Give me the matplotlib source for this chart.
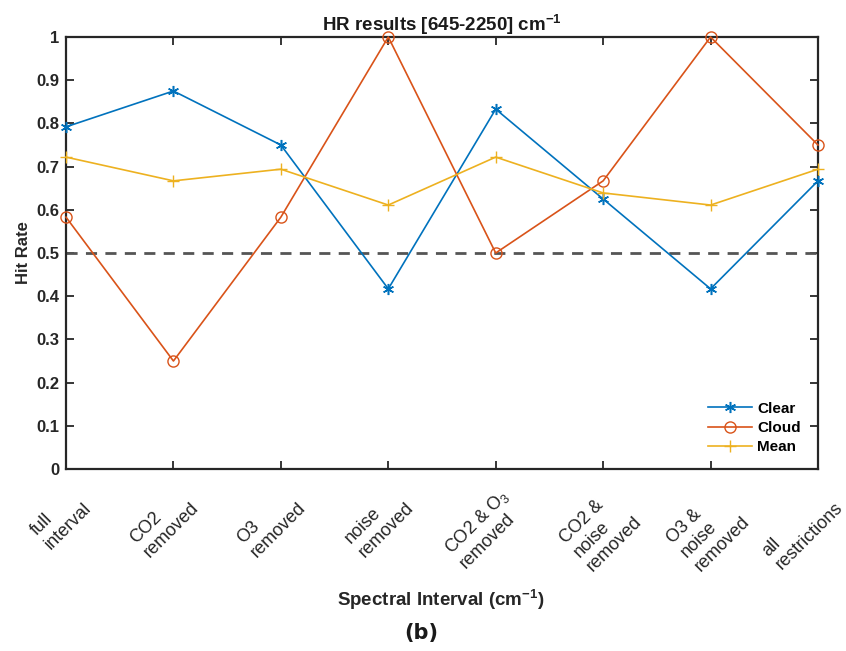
import matplotlib
matplotlib.use("Agg")
import matplotlib.pyplot as plt
from matplotlib.transforms import ScaledTranslation, blended_transform_factory
import numpy as np

plt.rcParams['font.family'] = ['Liberation Sans', 'DejaVu Sans']
plt.rcParams['mathtext.fontset'] = 'custom'
plt.rcParams['mathtext.rm'] = 'Liberation Sans'
plt.rcParams['mathtext.bf'] = 'Liberation Sans:bold'

categories = ["full\ninterval", "CO2\nremoved", "O3\nremoved", "noise\nremoved",
              "CO2 & O$_3$\nremoved", "CO2 &\nnoise\nremoved", "O3 &\nnoise\nremoved",
              "all\nrestrictions"]
clear = [0.792, 0.875, 0.750, 0.417, 0.833, 0.625, 0.417, 0.667]
cloud = [0.583, 0.250, 0.583, 1.000, 0.500, 0.667, 1.000, 0.750]
mean = [0.722, 0.667, 0.694, 0.611, 0.722, 0.639, 0.611, 0.694]
chance_level = 0.5
yticks = [0, 0.1, 0.2, 0.3, 0.4, 0.5, 0.6, 0.7, 0.8, 0.9, 1]

fig = plt.figure(figsize=(8.46, 6.51), dpi=100)
ax = fig.add_axes([66/846, 1 - 469/651, (818-66)/846, (469-37)/651])

x = np.arange(len(categories))
ax.plot(x, clear, color='#0072BD', marker=(6, 2, 0), markersize=8, markeredgewidth=1.1, lw=1.2,
        label='Clear', clip_on=False, zorder=3)
ax.plot(x, cloud, color='#D95319', marker='o', markersize=8, markerfacecolor='none', lw=1.2,
        label='Cloud', clip_on=False, zorder=3)
ax.plot(x, mean, color='#EDB120', marker='+', markersize=8, lw=1.2, label='Mean', clip_on=False, zorder=3)
ax.axhline(chance_level, color='#555555', lw=2, ls=(0, (4, 3)), zorder=2)

ax.set_xlim(0, len(categories) - 1)
ax.set_ylim(0, 1)
ax.set_yticks(yticks)
ax.set_yticklabels([f"{v:g}" for v in yticks], fontsize=12, fontweight='bold', color='#262626')
ax.set_xticks(x)
ax.set_xticklabels([])
ax.tick_params(direction='in', top=True, right=True, length=6, width=1.3, color='#262626', pad=5)
for s in ax.spines.values():
    s.set_linewidth(1.6)
    s.set_color('#262626')

# rotated category labels, anchored at their top-right corner just below each tick
label_tr = blended_transform_factory(ax.transData, ax.transAxes) + \
    ScaledTranslation(2.0 / 72, -12.0 / 72, fig.dpi_scale_trans)
for xi, name in zip(x, categories):
    ax.text(xi, 0, name, transform=label_tr, rotation=45, rotation_mode='anchor',
            ha='right', va='top', multialignment='left', fontsize=13, color='#262626', clip_on=False)

ax.set_title("HR results [645-2250] cm$^{\\mathbf{-1}}$", fontsize=13.5, fontweight='bold', pad=4,
             color='#1a1a1a')
ax.set_ylabel("Hit Rate", fontsize=12, fontweight='bold', color='#262626', labelpad=4)
fig.text(441/846, 1 - 600/651, "Spectral Interval (cm$^{\\mathbf{-1}}$)", ha='center', va='center',
         fontsize=13.5, fontweight='bold', color='#262626')
fig.text(421/846, 1 - 633/651, "(b)", ha='center', va='center', fontsize=15, fontweight='bold',
         family='DejaVu Sans', color='#1a1a1a')

leg = ax.legend(loc='lower right', bbox_to_anchor=(0.985, 0.02), frameon=False,
                prop={'weight': 'bold', 'size': 11}, handlelength=2.9, handletextpad=0.3,
                labelspacing=0.35, borderaxespad=0)

fig.savefig("out.png", dpi=100, facecolor='white')
